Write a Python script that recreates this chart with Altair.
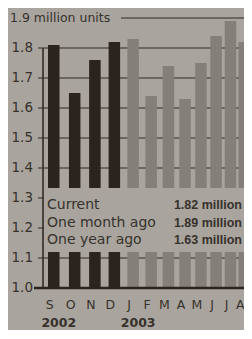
import altair as alt
import pandas as pd

# ---- data ----
months = ["S", "O", "N", "D", "J", "F", "M", "A", "M", "J", "J", "A"]
years = ["2002", "2002", "2002", "2002", "2003", "2003", "2003", "2003",
         "2003", "2003", "2003", "2003"]
values = [1.81, 1.65, 1.76, 1.82, 1.83, 1.64, 1.74, 1.63, 1.75, 1.84, 1.89, 1.82]
year_labels = ["2002", "2003"]
y_ticks = [1.0, 1.1, 1.2, 1.3, 1.4, 1.5, 1.6, 1.7, 1.8]
unit_title = "1.9 million units"
legend_labels = ["Current", "One month ago", "One year ago"]
legend_values = ["1.82 million", "1.89 million", "1.63 million"]

BG = "#a9a59e"
DARK = "#2b231d"
GRAY = "#847f78"
GRID = "#57524c"
TEXT = "#37312c"

W, H = 201, 270

# The photographed page is curved, so months get closer towards the right:
# a reversed power scale on (K - month index) reproduces that spacing.
K = 29.48
df = pd.DataFrame({"idx": list(range(len(months))), "month": months,
                   "year": years, "value": values})
first_idx = [years.index(y) for y in year_labels]
ydf = pd.DataFrame({"idx": first_idx, "year": year_labels})
tdf = pd.DataFrame({"v": y_ticks})
one = pd.DataFrame({"k": [0]})

xscale = alt.Scale(type="pow", exponent=2, domain=[18.865, 29.75], reverse=True,
                   nice=False, zero=False)
yscale = alt.Scale(domain=[1.0, 1.9], zero=False, nice=False)
calc_r = f"{K} - datum.idx"

grid = alt.Chart(tdf).transform_filter("datum.v > 1.0").mark_rule(
    color=GRID, strokeWidth=1.7).encode(
    y=alt.Y("v:Q", scale=yscale, axis=None), x=alt.value(-5), x2=alt.value(W))

bars = alt.Chart(df).transform_calculate(r=calc_r).mark_bar(width=11.5).encode(
    x=alt.X("r:Q", scale=xscale, axis=None),
    y=alt.Y("value:Q", scale=yscale, axis=None),
    y2=alt.datum(1.0),
    color=alt.Color("year:N", scale=alt.Scale(domain=year_labels, range=[DARK, GRAY]),
                    legend=None),
)

baseline = alt.Chart(one).mark_rule(color=DARK, strokeWidth=2.5).encode(
    x=alt.value(-9), x2=alt.value(W), y=alt.YDatum(1.0, scale=yscale, axis=None))

yline = alt.Chart(one).mark_rule(color=DARK, strokeWidth=1.5).encode(
    x=alt.value(0), y=alt.YDatum(1.0, scale=yscale, axis=None), y2=alt.datum(1.8))

top_rule = alt.Chart(one).mark_rule(color=GRID, strokeWidth=1.7).encode(
    x=alt.value(78), x2=alt.value(W), y=alt.YDatum(1.9, scale=yscale, axis=None))

title = alt.Chart(one).mark_text(align="left", baseline="middle", font="DejaVu Sans",
                                 fontSize=12.5, color=TEXT).encode(
    x=alt.value(-33), y=alt.YDatum(1.9, scale=yscale, axis=None),
    text=alt.value(unit_title))

tick_labels = alt.Chart(tdf).mark_text(align="right", baseline="middle",
                                       font="DejaVu Sans", fontSize=13.5,
                                       color=TEXT).encode(
    x=alt.value(-10), y=alt.Y("v:Q", scale=yscale, axis=None),
    text=alt.Text("v:Q", format=".1f"))

month_labels = alt.Chart(df).transform_calculate(r=calc_r).mark_text(
    align="center", baseline="middle", font="DejaVu Sans", fontSize=12.5,
    color=TEXT, dx=-4).encode(
    x=alt.X("r:Q", scale=xscale, axis=None), y=alt.value(H + 17), text="month:N")

year_text = alt.Chart(ydf).transform_calculate(r=calc_r).mark_text(
    align="center", baseline="middle", font="DejaVu Sans", fontWeight="bold",
    fontSize=12.5, color=TEXT, dx=5).encode(
    x=alt.X("r:Q", scale=xscale, axis=None), y=alt.value(H + 35), text="year:N")

box = alt.Chart(one).mark_rect(color=BG).encode(
    x=alt.value(1), x2=alt.value(W), y=alt.value(170), y2=alt.value(234))

legend_layers = []
for i, (lab, val) in enumerate(zip(legend_labels, legend_values)):
    yy = 187 + 17.5 * i
    legend_layers.append(
        alt.Chart(one).mark_text(align="left", baseline="middle", font="DejaVu Sans",
                                 fontSize=14, color=TEXT).encode(
            x=alt.value(4), y=alt.value(yy), text=alt.value(lab)))
    legend_layers.append(
        alt.Chart(one).mark_text(align="right", baseline="middle",
                                 font="Liberation Sans", fontWeight="bold",
                                 fontSize=12.5, color=TEXT).encode(
            x=alt.value(W - 2), y=alt.value(yy), text=alt.value(val)))

chart = alt.layer(grid, bars, baseline, yline, top_rule, title, tick_labels,
                  month_labels, year_text, box, *legend_layers).properties(
    width=W, height=H,
    padding={"left": 35, "top": 10, "right": 0, "bottom": 42},
    autosize=alt.AutoSizeParams(type="none"),
    background=BG,
).configure_view(stroke=None)

chart.save("out.html", embed_options={"renderer": "svg", "actions": False})
